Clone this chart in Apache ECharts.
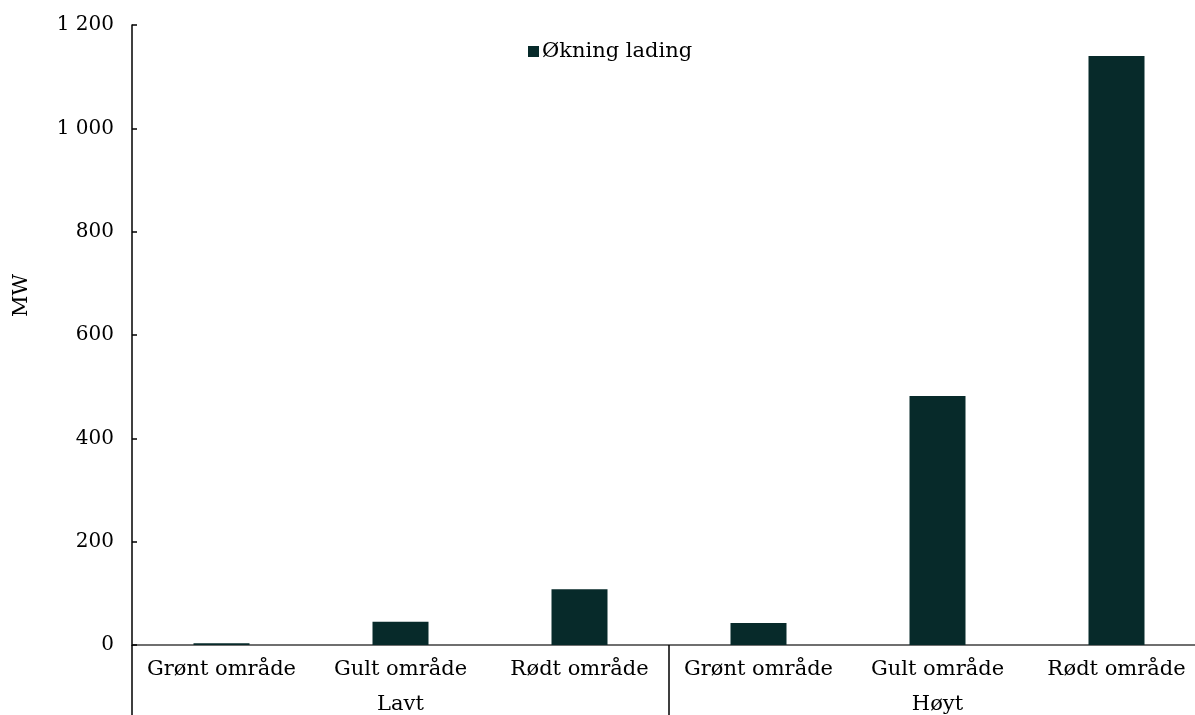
<!DOCTYPE html>
<html>
<head>
<meta charset="utf-8">
<script src="https://cdn.jsdelivr.net/npm/echarts@6/dist/echarts.min.js"></script>
<style>
  html, body { margin: 0; padding: 0; background: #ffffff; overflow: hidden; }
  /* the drawing runs a few pixels past the visible window on the right */
  #chart { width: 1210px; height: 715px; }
</style>
</head>
<body>
<div id="chart"></div>
<script>
// Økning i lading (MW) per område, for lavt og høyt scenario
const categories = ['Grønt område', 'Gult område', 'Rødt område', 'Grønt område', 'Gult område', 'Rødt område'];
const groups = ['Lavt', 'Høyt'];
const seriesName = 'Økning lading';
const values = [3.5, 45, 108, 42.5, 482, 1140];
const yTicks = [0, 200, 400, 600, 800, 1000, 1200];
const yTitle = 'MW';

const FONT = 'DejaVu Serif';
const INK = '#000000';
const BAR = '#072a2a';

function fmt(v) {
  return String(v).replace(/\B(?=(\d{3})+(?!\d))/g, ' ');
}

const chart = echarts.init(document.getElementById('chart'), null, { renderer: 'canvas' });

chart.setOption({
  animation: false,
  backgroundColor: '#ffffff',
  textStyle: { fontFamily: FONT, color: INK },
  legend: {
    data: [seriesName],
    left: 523,
    top: 36,
    icon: 'rect',
    itemWidth: 11,
    itemHeight: 11,
    itemGap: 4,
    textStyle: { fontFamily: FONT, fontSize: 21, color: INK, padding: [0, 0, 0, -2] }
  },
  grid: { left: 132, top: 25, width: 1074, height: 620, containLabel: false },
  graphic: [
    {
      type: 'text',
      left: 11,
      top: 274,
      rotation: Math.PI / 2,
      style: { text: yTitle, fontFamily: FONT, fontSize: 21, fill: INK }
    }
  ],
  xAxis: [
    {
      type: 'category',
      data: categories,
      position: 'bottom',
      axisLine: { show: true, lineStyle: { color: '#404040', width: 1.5 } },
      axisTick: { show: false },
      axisLabel: { fontFamily: FONT, fontSize: 21, color: INK, margin: 14, interval: 0 }
    },
    {
      type: 'category',
      data: groups,
      position: 'bottom',
      axisLine: { show: false },
      axisTick: { show: true, inside: false, length: 72, alignWithLabel: false, lineStyle: { color: INK, width: 1.5 } },
      axisLabel: { fontFamily: FONT, fontSize: 21, color: INK, margin: 49, interval: 0 }
    }
  ],
  yAxis: {
    type: 'value',
    min: yTicks[0],
    max: yTicks[yTicks.length - 1],
    interval: yTicks[1] - yTicks[0],
    axisLine: { show: true, lineStyle: { color: INK, width: 1.5 } },
    axisTick: { show: true, inside: true, length: 5, lineStyle: { color: INK, width: 1.5 } },
    splitLine: { show: false },
    axisLabel: { fontFamily: FONT, fontSize: 20, color: INK, margin: 18, formatter: fmt }
  },
  series: [
    {
      name: seriesName,
      type: 'bar',
      xAxisIndex: 0,
      data: values,
      barWidth: 56,
      itemStyle: { color: BAR }
    }
  ]
});
</script>
</body>
</html>
